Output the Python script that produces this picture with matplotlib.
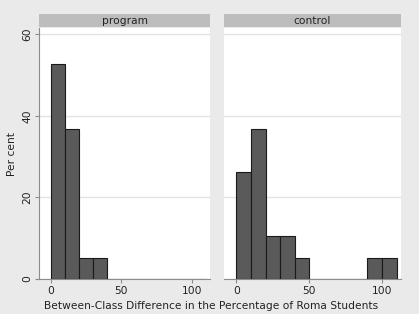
import matplotlib
matplotlib.use('Agg')
import matplotlib.pyplot as plt

# Datos: porcentaje de clases por intervalo (ancho 10)
bin_edges = [0, 10, 20, 30, 40, 50, 60, 70, 80, 90, 100, 110]
program_pct = [52.6, 36.8, 5.26, 5.26, 0, 0, 0, 0, 0, 0, 0]
control_pct = [26.3, 36.8, 10.5, 10.5, 5.26, 0, 0, 0, 0, 5.26, 5.26]
panel_titles = ['program', 'control']
x_ticks = [0, 50, 100]
y_ticks = [0, 20, 40, 60]

W, H = 419, 314
fig = plt.figure(figsize=(W / 100, H / 100), dpi=100)
fig.patch.set_facecolor('#eaeaea')

def px_box(x0, x1, y0, y1):
    return [x0 / W, (H - y1) / H, (x1 - x0) / W, (y1 - y0) / H]

fs = 7.7
panels = [(39, 210), (224, 401)]
for i, (vals, title, (x0, x1)) in enumerate(zip([program_pct, control_pct], panel_titles, panels)):
    ax = fig.add_axes(px_box(x0, x1, 28, 279))
    ax.set_facecolor('white')
    lefts = bin_edges[:-1]
    ax.bar(lefts, vals, width=10, align='edge', color='#5a5a5a',
           edgecolor='#1a1a1a', linewidth=0.8, zorder=3)
    ax.set_xlim(-8.5, 113)
    ax.set_ylim(0, 61.5)
    ax.set_yticks(y_ticks)
    ax.set_xticks(x_ticks)
    ax.grid(axis='y', color='#e3e3e3', linewidth=1.0, zorder=0)
    for s in ['top', 'right']:
        ax.spines[s].set_visible(False)
    ax.spines['bottom'].set_color('#8c8c8c')
    ax.spines['left'].set_color('#8c8c8c')
    ax.tick_params(direction='out', length=3, color='#8c8c8c', labelsize=fs,
                   labelcolor='#222222', pad=2)
    if i == 0:
        for lab in ax.get_yticklabels():
            lab.set_rotation(90)
            lab.set_va('center')
        ax.set_ylabel('Per cent', fontsize=fs, color='#222222', labelpad=4)
    else:
        ax.spines['left'].set_visible(False)
        ax.tick_params(axis='y', left=False, labelleft=False)

    # Cabecera del panel
    hax = fig.add_axes(px_box(x0, x1, 14, 27))
    hax.set_facecolor('#bdbdbd')
    hax.set_xticks([])
    hax.set_yticks([])
    for s in hax.spines.values():
        s.set_visible(False)
    hax.text(0.5, 0.45, title, ha='center', va='center', fontsize=fs,
             color='#222222', transform=hax.transAxes)

fig.text(211 / W, 1 - 306 / H, 'Between-Class Difference in the Percentage of Roma Students',
         ha='center', va='center', fontsize=fs, color='#222222')

plt.savefig('out.png', dpi=100, facecolor=fig.get_facecolor())
